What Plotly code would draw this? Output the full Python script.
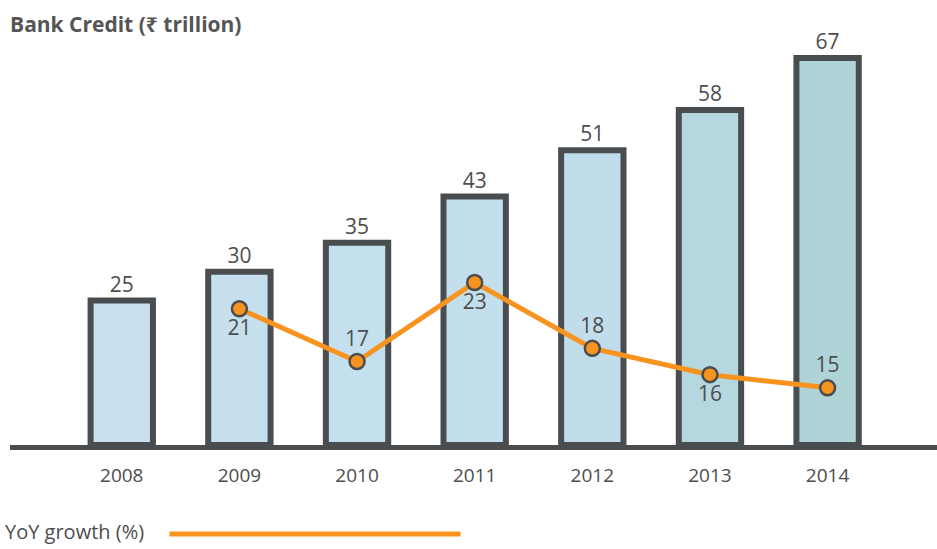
import plotly.graph_objects as go

# Bank credit outstanding and year-on-year growth
years = ["2008", "2009", "2010", "2011", "2012", "2013", "2014"]
credit = [25, 30, 35, 43, 51, 58, 67]            # ₹ trillion
growth_years = ["2009", "2010", "2011", "2012", "2013", "2014"]
growth = [21, 17, 23, 18, 16, 15]                # YoY growth, %
growth_label_pos = ["bottom center", "top center", "bottom center",
                    "top center", "bottom center", "top center"]

FONT = "Open Sans, Noto Sans, DejaVu Sans, sans-serif"
INK = "#4a4d50"
ORANGE = "#f7931e"
TEXT = "#4d4d4d"
bar_fills = ["#c9e1ef", "#c6e0ee", "#c4dfee", "#c3deed", "#c1ddec", "#b5d8e0", "#aed4d8"]

fig = go.Figure()

fig.add_trace(go.Bar(
    x=years, y=credit,
    marker=dict(color=bar_fills, line=dict(color=INK, width=6)),
    width=0.53,
    text=[str(v) for v in credit],
    textposition="outside",
    textfont=dict(family=FONT, size=21, color=TEXT),
    cliponaxis=False,
    showlegend=False,
    hoverinfo="x+y",
))

fig.add_trace(go.Scatter(
    x=growth_years, y=growth, yaxis="y2",
    mode="lines+markers+text",
    line=dict(color=ORANGE, width=5),
    marker=dict(size=15, color=ORANGE, line=dict(color=INK, width=2.5)),
    text=[str(v) for v in growth],
    textposition=growth_label_pos,
    textfont=dict(family=FONT, size=21, color=TEXT),
    cliponaxis=False,
    showlegend=False,
))

# Legend entry for the growth line, drawn below the axis
fig.add_annotation(
    xref="paper", yref="paper", x=-0.008, y=-0.214,
    xanchor="left", yanchor="middle", showarrow=False,
    text="YoY growth (%)", font=dict(family=FONT, size=20, color=TEXT),
)
fig.add_shape(
    type="line", xref="paper", yref="paper",
    x0=0.172, x1=0.486, y0=-0.22, y1=-0.22,
    line=dict(color=ORANGE, width=5),
)

fig.update_layout(
    width=937, height=549,
    margin=dict(l=10, r=0, t=40, b=104),
    plot_bgcolor="white", paper_bgcolor="white",
    font=dict(family=FONT, color=TEXT),
    title=dict(
        text="<b>Bank Credit (₹ trillion)</b>",
        x=0.0107, xanchor="left", xref="container",
        y=0.955, yanchor="middle",
        font=dict(family=FONT, size=21, color="#555555"),
    ),
    xaxis=dict(
        type="category", range=[-0.95, 6.93],
        showline=True, linecolor=INK, linewidth=5,
        showgrid=False, zeroline=False,
        ticks="outside", ticklen=9, tickcolor="rgba(0,0,0,0)",
        tickfont=dict(family=FONT, size=19, color=TEXT),
    ),
    yaxis=dict(range=[0, 70.1], visible=False, showgrid=False, zeroline=False),
    yaxis2=dict(range=[10.66, 41.41], overlaying="y", visible=False,
                showgrid=False, zeroline=False),
    bargap=0.47,
)

fig.write_html("out.html")
